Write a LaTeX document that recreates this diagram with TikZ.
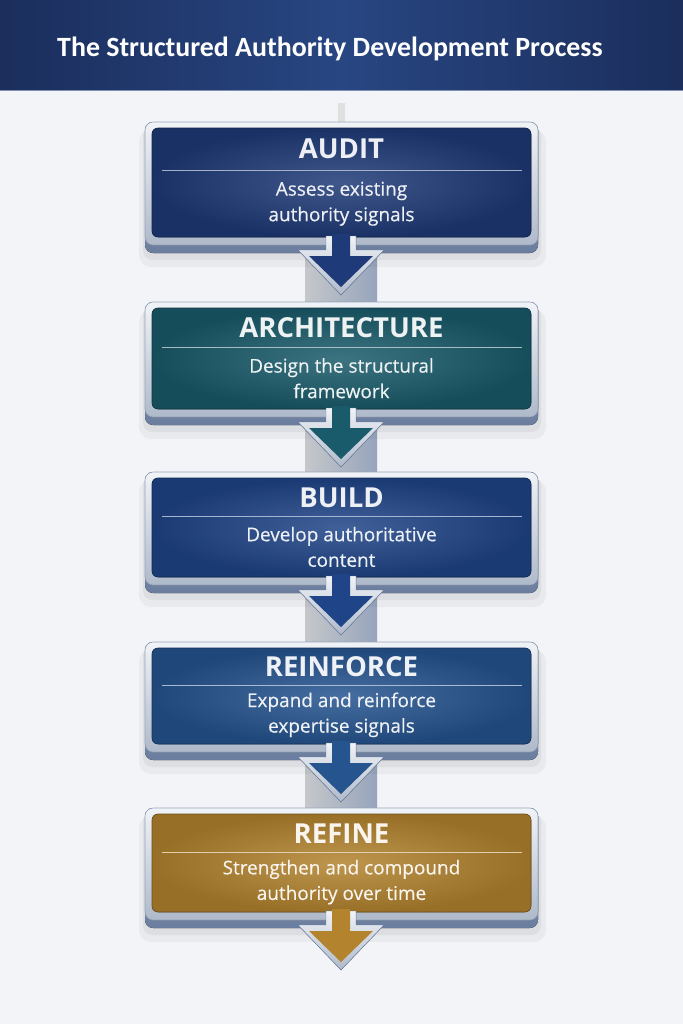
\documentclass[tikz,border=0pt]{standalone}
\usepackage{fontspec}
\setmainfont{Open Sans}
\newfontfamily\headfont{Carlito}
\newfontfamily\descfont[BoldFont={Open Sans}, BoldFeatures={FakeBold=0.35}]{Open Sans}
\usepackage{tikz}
\usetikzlibrary{positioning, calc}

\definecolor{headdark}{HTML}{1B2E5C}
\definecolor{headlight}{HTML}{284682}
\definecolor{pagebg}{HTML}{F3F4F8}
\definecolor{silverhi}{HTML}{F0F3F7}
\definecolor{silverlo}{HTML}{AEB9CA}
\definecolor{edge}{HTML}{6A7D9E}
\definecolor{auditcol}{HTML}{1F3A78}
\definecolor{archcol}{HTML}{1A5B6B}
\definecolor{buildcol}{HTML}{1F4487}
\definecolor{reinfcol}{HTML}{26548F}
\definecolor{refinecol}{HTML}{B3832E}

% one process step: name, top, bottom, colour, title, text line 1, text line 2
\newcommand{\flowstep}[7]{%
  \pgfmathsetmacro{\sepy}{#2+0.37*(#3-#2)}
  \pgfmathsetmacro{\iny}{#3-16}
  % shadow
  \fill[black, opacity=0.04, rounded corners=10pt] (139,#2+8) rectangle (546,#3+14);
  \fill[black, opacity=0.05, rounded corners=8pt] (143,#2+4) rectangle (541,#3+7);
  % frame
  \fill[rounded corners=7pt, top color=edge!60, bottom color=edge] (145,#2) rectangle (538,#3);
  \filldraw[rounded corners=7pt, top color=silverhi, bottom color=silverlo, draw=edge!70, line width=0.5pt] (145,#2) rectangle (538,#3-8);
  \filldraw[rounded corners=5pt, inner color=#4!85!white, outer color=#4!85!black, draw=#4!60!black, line width=0.5pt] (152,#2+6) rectangle (531,\iny);
  % arrow
  \fill[top color=silverhi, bottom color=silverlo, draw=edge, line width=0.4pt]
    (326,\iny-1) -- (326,#3-3) -- (298,#3-3) -- (341,#3+42) -- (384,#3-3)
    -- (356,#3-3) -- (356,\iny-1) -- cycle;
  \fill[#4] (332,\iny-3) -- (332,#3+3) -- (309,#3+3) -- (341,#3+34) -- (373,#3+3)
    -- (350,#3+3) -- (350,\iny-3) -- cycle;
  % texts
  \node[steptitle, text=#4!8!white] (#1) at (341.5,{(#2+6+\sepy)/2}) {#5};
  \draw[sepline, #4!40!white] (162,\sepy) -- (522,\sepy);
  \node[steptext, text=#4!8!white] (#1-text) at (341.5,{(\sepy+\iny)/2}) {#6\\#7};
}

\begin{document}
\begin{tikzpicture}[
    x=0.03cm, y=-0.03cm,
    steptitle/.style={font=\bfseries\fontsize{23.5}{26}\selectfont, inner sep=0pt},
    steptext/.style={font=\descfont\bfseries\fontsize{16.2}{21.8}\selectfont, align=center, inner sep=0pt},
    sepline/.style={line width=1.2pt},
]
\useasboundingbox (0,0) rectangle (683,1024);

% background and header
\fill[pagebg] (0,0) rectangle (683,1024);
\fill[left color=headdark, right color=headdark, middle color=headlight] (0,0) rectangle (683,90);
\draw[headlight!60!white, line width=0.6pt] (0,90) -- (683,90);
\node[anchor=west, text=white, inner sep=0pt, font=\headfont\bfseries\fontsize{23.8}{26}\selectfont]
  (header) at (57,49) {The Structured Authority Development Process};

% centre bar
\fill[black!12] (338,103) rectangle (345,122);
\fill[left color=black!18!silverhi, right color=edge!70] (305,245) rectangle (377,815);

% Steps
\flowstep{audit}{122}{253}{auditcol}{AUDIT}{Assess existing}{authority signals}
\flowstep{architecture}{302}{425}{archcol}{ARCHITECTURE}{Design the structural}{framework}
\flowstep{build}{472}{593}{buildcol}{BUILD}{Develop authoritative}{content}
\flowstep{reinforce}{642}{760}{reinfcol}{REINFORCE}{Expand and reinforce}{expertise signals}
\flowstep{refine}{808}{928}{refinecol}{REFINE}{Strengthen and compound}{authority over time}

\end{tikzpicture}
\end{document}
